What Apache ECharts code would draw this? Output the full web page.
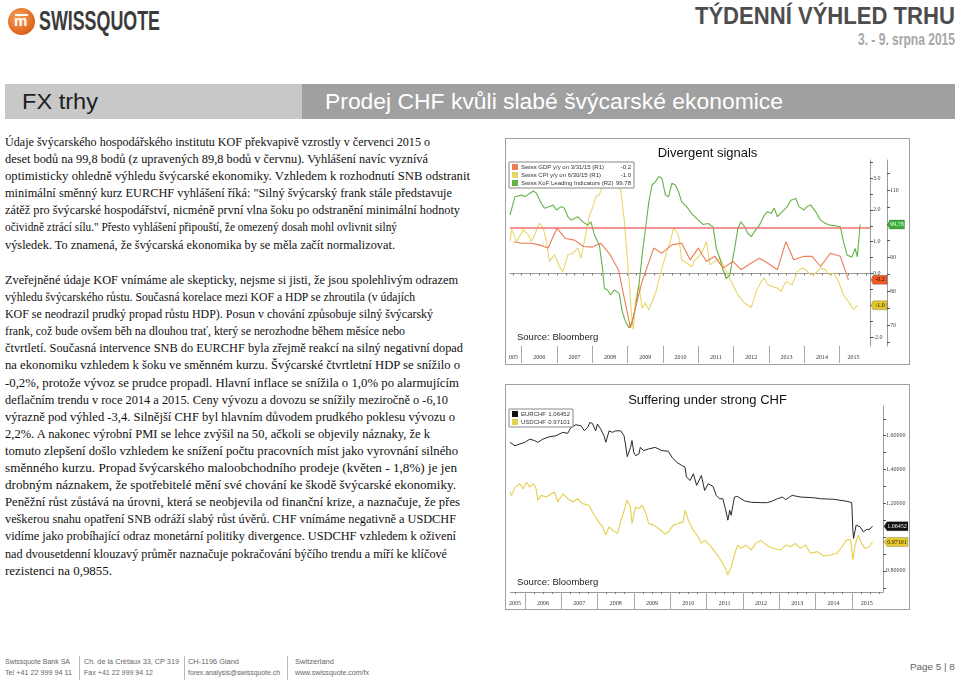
<!DOCTYPE html>
<html><head><meta charset="utf-8">
<script src="https://cdn.jsdelivr.net/npm/echarts@6/dist/echarts.min.js"></script>
<style>
html,body{margin:0;padding:0;background:#fff;}
#page{position:relative;width:960px;height:681px;overflow:hidden;background:#fff;font-family:"Liberation Sans",Arial,sans-serif;}
.abs{position:absolute;white-space:nowrap;}
.fit{transform-origin:left center;display:inline-block;}
.fitr{transform-origin:right center;display:inline-block;}
.txt{position:absolute;left:5px;font-family:"Liberation Serif","Times New Roman",serif;font-size:12.6px;line-height:17.1px;color:#111;white-space:nowrap;}
.txt span{display:inline-block;transform-origin:left center;}
.box{position:absolute;border:1px solid #a0a0a0;box-sizing:border-box;background:#fff;}
.ft{position:absolute;font-size:8px;color:#666;white-space:nowrap;line-height:11px;}
.sep{position:absolute;top:656px;width:1px;height:24px;background:#bbb;}
</style></head>
<body><div id="page">

<div class="abs" style="left:8px;top:8px;width:27px;height:27px;border-radius:50%;background:radial-gradient(circle at 40% 35%,#f7a25a,#e0681f 65%,#b9500f);"></div>
<div class="abs" style="left:15px;top:14px;width:13px;height:2px;background:#fff;"></div>
<div class="abs" style="left:14px;top:12px;color:#fff;font-weight:bold;font-size:15px;line-height:18px;">m</div>
<div class="abs" style="left:39px;top:5px;font-weight:bold;font-size:28px;line-height:32px;color:#3b3b3b;"><span class="fit" data-w="121">SWISSQUOTE</span></div>

<div class="abs" style="right:5px;top:2px;font-weight:bold;font-size:23px;line-height:28px;color:#4d4d4d;text-align:right;"><span class="fitr" data-w="260">TÝDENNÍ VÝHLED TRHU</span></div>
<div class="abs" style="right:5px;top:31px;font-weight:bold;font-size:16px;line-height:18px;color:#a6a6a6;text-align:right;"><span class="fitr" data-w="97">3. - 9. srpna 2015</span></div>

<div class="abs" style="left:5px;top:84px;width:297px;height:35px;background:#c8c8c8;"></div>
<div class="abs" style="left:302px;top:84px;width:653px;height:35px;background:#a0a0a0;"></div>
<div class="abs" style="left:22px;top:89px;font-size:22px;line-height:26px;color:#1e1e1e;"><span class="fit" data-w="76">FX trhy</span></div>
<div class="abs" style="left:325px;top:89px;font-size:22px;line-height:26px;color:#fff;"><span class="fit" data-w="458">Prodej CHF kvůli slabé švýcarské ekonomice</span></div>

<div class="txt" style="top:134px;"><span data-w="425">Údaje švýcarského hospodářského institutu KOF překvapivě vzrostly v červenci 2015 o</span><br><span data-w="423">deset bodů na 99,8 bodů (z upravených 89,8 bodů v červnu). Vyhlášení navíc vyznívá</span><br><span data-w="465">optimisticky ohledně výhledu švýcarské ekonomiky. Vzhledem k rozhodnutí SNB odstranit</span><br><span data-w="447">minimální směnný kurz EURCHF vyhlášení říká: "Silný švýcarský frank stále představuje</span><br><span data-w="455">zátěž pro švýcarské hospodářství, nicméně první vlna šoku po odstranění minimální hodnoty</span><br><span data-w="392">očividně ztrácí sílu." Přesto vyhlášení připouští, že omezený dosah mohl ovlivnit silný</span><br><span data-w="390">výsledek. To znamená, že švýcarská ekonomika by se měla začít normalizovat.</span></div>

<div class="txt" style="top:272px;"><span data-w="453">Zveřejněné údaje KOF vnímáme ale skepticky, nejsme si jisti, že jsou spolehlivým odrazem</span><br><span data-w="410">výhledu švýcarského růstu. Současná korelace mezi KOF a HDP se zhroutila (v údajích</span><br><span data-w="428">KOF se neodrazil prudký propad růstu HDP). Posun v chování způsobuje silný švýcarský</span><br><span data-w="400">frank, což bude ovšem běh na dlouhou trať, který se nerozhodne během měsíce nebo</span><br><span data-w="458">čtvrtletí. Současná intervence SNB do EURCHF byla zřejmě reakcí na silný negativní dopad</span><br><span data-w="455">na ekonomiku vzhledem k šoku ve směnném kurzu. Švýcarské čtvrtletní HDP se snížilo o</span><br><span data-w="454">-0,2%, protože vývoz se prudce propadl. Hlavní inflace se snížila o 1,0% po alarmujícím</span><br><span data-w="443">deflačním trendu v roce 2014 a 2015. Ceny vývozu a dovozu se snížily meziročně o -6,10</span><br><span data-w="450">výrazně pod výhled -3,4. Silnější CHF byl hlavním důvodem prudkého poklesu vývozu o</span><br><span data-w="425">2,2%. A nakonec výrobní PMI se lehce zvýšil na 50, ačkoli se objevily náznaky, že k</span><br><span data-w="453">tomuto zlepšení došlo vzhledem ke snížení počtu pracovních míst jako vyrovnání silného</span><br><span data-w="452">směnného kurzu. Propad švýcarského maloobchodního prodeje (květen - 1,8%) je jen</span><br><span data-w="451">drobným náznakem, že spotřebitelé mění své chování ke škodě švýcarské ekonomiky.</span><br><span data-w="455">Peněžní růst zůstává na úrovni, která se neobjevila od finanční krize, a naznačuje, že přes</span><br><span data-w="451">veškerou snahu opatření SNB odráží slabý růst úvěrů. CHF vnímáme negativně a USDCHF</span><br><span data-w="451">vidíme jako probíhající odraz monetární politiky divergence. USDCHF vzhledem k oživení</span><br><span data-w="442">nad dvousetdenní klouzavý průměr naznačuje pokračování býčího trendu a míří ke klíčové</span><br><span data-w="107">rezistenci na 0,9855.</span></div>

<div id="c1" class="box" style="left:505px;top:138px;width:405px;height:227px;"></div>
<div id="c2" class="box" style="left:505px;top:384px;width:405px;height:226px;"></div>

<div class="ft" style="left:5px;top:656px;"><span class="fit" data-w="65">Swissquote Bank SA</span><br><span class="fit" data-w="67">Tel +41 22 999 94 11</span></div>
<div class="sep" style="left:79px;"></div>
<div class="ft" style="left:84px;top:656px;"><span class="fit" data-w="95">Ch. de la Crétaux 33, CP 319</span><br><span class="fit" data-w="69">Fax +41 22 999 94 12</span></div>
<div class="sep" style="left:184px;"></div>
<div class="ft" style="left:188px;top:656px;"><span class="fit" data-w="51">CH-1196 Gland</span><br><span class="fit" data-w="92">forex.analysis@swissquote.ch</span></div>
<div class="sep" style="left:287px;"></div>
<div class="ft" style="left:295px;top:656px;"><span class="fit" data-w="39">Switzerland</span><br><span class="fit" data-w="74">www.swissquote.com/fx</span></div>
<div class="ft" style="right:5px;top:662px;font-size:9px;text-align:right;"><span class="fitr" data-w="45">Page 5 | 8</span></div>

</div>
<script>
// ---------- DATA: chart 1 "Divergent signals" ----------
const gdpName = 'Swiss GDP y/y on 3/31/15 (R1)';
const cpiName = 'Swiss CPI y/y on 6/30/15 (R1)';
const kofName = 'Swiss KoF Leading Indicators (R2)';
const gdpLast = '-0.2', cpiLast = '-1.0', kofLast = '99.78';
const gdpData = [[2005.77,1.0],[2006.0,0.95],[2006.25,0.95],[2006.5,0.9],[2006.75,0.8],[2007.0,1.43],[2007.24,1.1],[2007.5,1.05],[2007.75,0.85],[2008.0,0.83],[2008.24,0.95],[2008.5,0.6],[2008.74,0.12],[2009.08,-1.72],[2009.41,-0.25],[2009.74,0.8],[2009.97,0.64],[2010.25,0.9],[2010.53,0.95],[2010.77,0.43],[2011.0,0.8],[2011.23,0.38],[2011.47,0.54],[2011.7,0.17],[2011.98,0.38],[2012.21,0.12],[2012.5,0.33],[2012.73,0.48],[2012.96,0.33],[2013.24,0.12],[2013.48,1.0],[2013.7,0.43],[2013.99,0.54],[2014.22,0.54],[2014.46,0.22],[2014.74,0.64],[2015.02,0.54],[2015.25,-0.2]];
const cpiData = [[2005.67,1.01],[2005.72,1.38],[2005.86,1.01],[2006.05,1.38],[2006.19,1.22],[2006.28,1.01],[2006.37,1.22],[2006.50,1.58],[2006.61,1.43],[2006.70,1.01],[2006.79,0.38],[2006.93,0.59],[2007.07,0.22],[2007.17,0.06],[2007.31,0.59],[2007.45,0.64],[2007.59,0.80],[2007.68,0.48],[2007.82,1.27],[2007.92,1.85],[2008.01,2.06],[2008.10,2.42],[2008.20,2.48],[2008.29,2.74],[2008.38,2.95],[2008.52,3.2],[2008.66,3.1],[2008.80,2.63],[2008.90,1.74],[2008.96,0.90],[2009.04,-0.18],[2009.11,-1.30],[2009.16,-1.77],[2009.22,-0.88],[2009.32,-0.35],[2009.41,-1.09],[2009.50,-0.93],[2009.60,-1.14],[2009.79,-0.62],[2009.97,0.17],[2010.11,0.69],[2010.21,1.01],[2010.30,1.43],[2010.44,1.22],[2010.53,0.43],[2010.67,0.33],[2010.81,0.22],[2010.91,0.43],[2011.05,0.59],[2011.14,0.75],[2011.23,1.01],[2011.33,0.27],[2011.47,0.38],[2011.61,0.48],[2011.70,0.27],[2011.79,0.06],[2011.93,-0.25],[2012.12,-0.67],[2012.31,-0.93],[2012.50,-1.07],[2012.64,-0.56],[2012.78,-0.25],[2012.87,-0.14],[2012.96,-0.35],[2013.10,-0.41],[2013.24,-0.46],[2013.34,-0.56],[2013.48,-0.25],[2013.66,-0.35],[2013.80,0.06],[2013.94,0.17],[2014.04,0.12],[2014.18,-0.04],[2014.32,0.01],[2014.46,0.17],[2014.60,0.12],[2014.69,-0.04],[2014.83,0.01],[2014.97,-0.25],[2015.11,-0.67],[2015.25,-0.88],[2015.39,-1.14],[2015.50,-1.0]];
const kofData = [[2005.67,102.6],[2005.81,108.0],[2006.00,108.5],[2006.09,108.0],[2006.23,109.0],[2006.33,109.7],[2006.42,109.0],[2006.56,106.0],[2006.65,104.6],[2006.79,105.1],[2006.89,105.6],[2006.98,104.1],[2007.12,105.1],[2007.21,104.6],[2007.31,102.1],[2007.40,101.1],[2007.50,101.6],[2007.59,102.1],[2007.73,100.6],[2007.87,99.6],[2007.96,100.6],[2008.06,96.7],[2008.20,93.7],[2008.29,86.8],[2008.34,80.9],[2008.43,80.4],[2008.52,78.9],[2008.62,80.4],[2008.76,79.4],[2008.85,74.0],[2008.94,71.0],[2009.04,69.2],[2009.13,71.0],[2009.22,75.0],[2009.32,81.9],[2009.41,90.7],[2009.50,98.1],[2009.60,106.5],[2009.69,111.5],[2009.79,112.5],[2009.88,114.0],[2009.97,113.5],[2010.07,108.5],[2010.16,108.0],[2010.25,112.0],[2010.35,111.5],[2010.44,109.5],[2010.53,106.5],[2010.67,105.1],[2010.81,103.1],[2011.00,101.1],[2011.14,99.8],[2011.28,100.1],[2011.42,99.1],[2011.51,92.7],[2011.61,89.8],[2011.70,86.3],[2011.79,83.8],[2011.89,84.8],[2012.03,92.7],[2012.12,98.6],[2012.21,100.6],[2012.31,99.1],[2012.40,97.2],[2012.50,96.2],[2012.59,97.7],[2012.73,99.6],[2012.87,102.6],[2012.96,103.6],[2013.06,103.1],[2013.15,104.6],[2013.24,102.1],[2013.38,103.6],[2013.52,105.1],[2013.62,107.0],[2013.76,107.5],[2013.85,105.1],[2013.99,104.1],[2014.08,105.1],[2014.18,105.6],[2014.32,103.6],[2014.46,101.1],[2014.60,100.1],[2014.74,99.6],[2014.88,99.4],[2015.02,99.1],[2015.11,94.7],[2015.21,90.7],[2015.35,90.2],[2015.44,92.7],[2015.50,90.2],[2015.58,99.78]];
const kofRefLine = 98.7;
const r1Labels = [-2, 0, 1, 2, 3];
const r2Labels = [70, 80, 90, 110];
const yearLabels1 = [[2005.77,'005'],[2006.5,'2006'],[2007.5,'2007'],[2008.5,'2008'],[2009.5,'2009'],[2010.5,'2010'],[2011.5,'2011'],[2012.5,'2012'],[2013.5,'2013'],[2014.5,'2014'],[2015.39,'2015']];

// ---------- DATA: chart 2 "Suffering under strong CHF" ----------
const eurName = 'EURCHF', usdName = 'USDCHF';
const eurLast = '1.06452', usdLast = '0.97101';
const eurData = [[2005.59,1.561],[2005.73,1.541],[2005.86,1.551],[2006.00,1.561],[2006.14,1.580],[2006.27,1.571],[2006.36,1.561],[2006.50,1.580],[2006.68,1.594],[2006.86,1.600],[2007.05,1.620],[2007.18,1.614],[2007.27,1.649],[2007.41,1.665],[2007.55,1.659],[2007.64,1.629],[2007.73,1.649],[2007.79,1.678],[2007.86,1.673],[2007.95,1.629],[2008.00,1.669],[2008.09,1.639],[2008.18,1.600],[2008.23,1.561],[2008.32,1.629],[2008.41,1.620],[2008.50,1.629],[2008.64,1.629],[2008.73,1.600],[2008.77,1.551],[2008.82,1.476],[2008.91,1.531],[2008.95,1.571],[2009.00,1.502],[2009.05,1.482],[2009.14,1.492],[2009.18,1.531],[2009.27,1.512],[2009.41,1.522],[2009.59,1.531],[2009.77,1.512],[2009.95,1.508],[2010.05,1.473],[2010.18,1.443],[2010.32,1.424],[2010.41,1.414],[2010.45,1.355],[2010.55,1.335],[2010.64,1.375],[2010.73,1.306],[2010.86,1.365],[2010.95,1.276],[2011.05,1.316],[2011.18,1.300],[2011.27,1.247],[2011.36,1.227],[2011.45,1.227],[2011.52,1.169],[2011.59,1.100],[2011.64,1.159],[2011.68,1.129],[2011.77,1.237],[2011.86,1.241],[2011.95,1.227],[2012.05,1.214],[2012.23,1.206],[2012.50,1.204],[2012.68,1.204],[2012.82,1.214],[2012.95,1.227],[2013.09,1.237],[2013.18,1.222],[2013.36,1.247],[2013.59,1.237],[2013.95,1.233],[2014.14,1.227],[2014.50,1.224],[2014.86,1.212],[2015.00,1.204],[2015.03,1.041],[2015.05,0.992],[2015.12,1.071],[2015.23,1.061],[2015.32,1.031],[2015.41,1.045],[2015.50,1.047],[2015.57,1.065]];
const usdData = [[2005.59,1.267],[2005.64,1.247],[2005.73,1.296],[2005.86,1.316],[2005.95,1.286],[2006.05,1.325],[2006.14,1.296],[2006.23,1.316],[2006.30,1.296],[2006.36,1.218],[2006.45,1.247],[2006.59,1.237],[2006.73,1.257],[2006.82,1.267],[2006.91,1.208],[2007.05,1.257],[2007.18,1.227],[2007.32,1.208],[2007.45,1.227],[2007.59,1.198],[2007.77,1.188],[2007.86,1.149],[2008.00,1.100],[2008.14,1.061],[2008.23,1.012],[2008.32,1.061],[2008.41,1.041],[2008.55,1.022],[2008.68,1.120],[2008.82,1.218],[2008.91,1.178],[2008.95,1.080],[2009.05,1.178],[2009.14,1.169],[2009.23,1.188],[2009.32,1.149],[2009.41,1.080],[2009.55,1.071],[2009.68,1.051],[2009.86,1.018],[2009.95,1.031],[2010.09,1.071],[2010.23,1.080],[2010.36,1.090],[2010.41,1.159],[2010.50,1.100],[2010.64,1.041],[2010.77,1.002],[2010.86,0.963],[2010.95,0.982],[2011.09,0.953],[2011.23,0.914],[2011.36,0.875],[2011.50,0.825],[2011.59,0.776],[2011.68,0.825],[2011.77,0.894],[2011.86,0.953],[2011.95,0.933],[2012.09,0.953],[2012.23,0.924],[2012.36,0.963],[2012.50,0.982],[2012.59,0.963],[2012.73,0.943],[2012.86,0.933],[2013.05,0.924],[2013.18,0.953],[2013.32,0.943],[2013.45,0.963],[2013.59,0.933],[2013.73,0.953],[2013.86,0.904],[2014.05,0.914],[2014.23,0.888],[2014.41,0.894],[2014.59,0.904],[2014.73,0.943],[2014.86,0.982],[2014.97,0.986],[2015.03,0.865],[2015.09,0.953],[2015.18,1.012],[2015.27,0.963],[2015.36,0.933],[2015.48,0.943],[2015.57,0.971]];
const fxLabels = [0.8, 1.2, 1.4, 1.6];
const yearLabels2 = [[2005.73,'2005'],[2006.5,'2006'],[2007.5,'2007'],[2008.5,'2008'],[2009.5,'2009'],[2010.5,'2010'],[2011.5,'2011'],[2012.5,'2012'],[2013.5,'2013'],[2014.5,'2014'],[2015.41,'2015']];

// ---------- fit texts to measured widths ----------
document.querySelectorAll('[data-w]').forEach(el => {
  const w = el.getBoundingClientRect().width;
  const t = parseFloat(el.getAttribute('data-w'));
  if (w > 0) el.style.transform = 'scaleX(' + (t / w) + ')';
});

const years = [2006,2007,2008,2009,2010,2011,2012,2013,2014,2015];
function steps(a, b, s) { const r = []; for (let v = a; v <= b + 1e-9; v += s) r.push(+v.toFixed(4)); return r; }
const axFont = 'Liberation Serif';
const C = { gdp: '#ea7d55', cpi: '#e9d66b', kof: '#66b24a', ref: '#f07272' };
const TAG = 'path://M0,5L5,0L40,0L40,10L5,10Z';

function tag(x, y, text, bg, fg, w, off) {
  return { coord: [x, y], symbol: TAG, symbolSize: [w, 9], symbolOffset: [off, 0],
    itemStyle: { color: bg, borderColor: 'rgba(0,0,0,0.35)', borderWidth: 0.5 },
    label: { show: true, position: 'inside', formatter: text, color: fg, fontSize: 6, fontFamily: axFont, offset: [1, 0] } };
}
function xAxes(min, max, labels) {
  return [
    { type: 'value', min, max, axisLine: { show: true, lineStyle: { color: '#9a9a9a' } },
      axisTick: { show: true, customValues: steps(2005.75, 2015.75, 0.25).filter(v => v >= min && v <= max), length: 2, lineStyle: { color: '#777' } },
      axisLabel: { show: false }, splitLine: { show: false } },
    { type: 'value', min, max, position: 'bottom', axisLine: { show: false },
      axisTick: { show: true, customValues: years, length: 17, lineStyle: { color: '#a8a8a8' } },
      axisLabel: { show: true, customValues: labels.map(l => l[0]), formatter: v => { const f = labels.find(l => Math.abs(l[0] - v) < 1e-6); return f ? f[1] : ''; }, fontSize: 6, fontFamily: axFont, color: '#333', margin: 8 },
      splitLine: { show: false } }
  ];
}
function legendOpt(names, vals, nw, vw, top) {
  return { data: names, orient: 'vertical', left: 3, top: top, icon: 'rect', itemWidth: 6, itemHeight: 6, itemGap: 2,
    backgroundColor: '#fff', borderColor: '#888', borderWidth: 1, padding: [2, 3], borderRadius: 0,
    formatter: n => '{n|' + n + '}{v|' + vals[n] + '}',
    textStyle: { fontSize: 6, fontFamily: 'Liberation Sans', color: '#333', padding: [0, 0, 0, -2],
      rich: { n: { width: nw, fontSize: 6, fontFamily: 'Liberation Sans', color: '#333' }, v: { width: vw, align: 'right', fontSize: 6, fontFamily: 'Liberation Sans', color: '#333' } } } };
}
function source() {
  return { type: 'text', left: 11, bottom: 22, style: { text: 'Source: Bloomberg', fontSize: 9.5, fontFamily: 'Liberation Sans', fill: '#222' } };
}

// ---------- chart 1 ----------
const X1MIN = 2005.67, X1MAX = 2015.86;
const c1 = echarts.init(document.getElementById('c1'));
c1.setOption({
  animation: false,
  title: { text: 'Divergent signals', left: 'center', top: 3, textStyle: { fontSize: 13, fontWeight: 'normal', fontFamily: 'Liberation Sans', color: '#111' } },
  grid: { left: 2, right: 39, top: 21, bottom: 18 },
  legend: legendOpt([gdpName, cpiName, kofName], { [gdpName]: gdpLast, [cpiName]: cpiLast, [kofName]: kofLast }, 92, 18, 23),
  graphic: [source()],
  xAxis: xAxes(X1MIN, X1MAX, yearLabels1),
  yAxis: [
    { type: 'value', position: 'right', min: -2.28, max: 3.57, axisLine: { show: true, lineStyle: { color: '#9a9a9a' } },
      axisTick: { show: true, customValues: steps(-2, 3.5, 0.5), length: 3, lineStyle: { color: '#555' } },
      axisLabel: { show: true, customValues: r1Labels, formatter: v => v.toFixed(1), fontSize: 6, fontFamily: axFont, color: '#444', margin: 3 },
      splitLine: { show: false } },
    { type: 'value', position: 'right', offset: 17, min: 63.8, max: 118.9, axisLine: { show: true, lineStyle: { color: '#9a9a9a' } },
      axisTick: { show: true, customValues: steps(65, 115, 5), length: 3, lineStyle: { color: '#555' } },
      axisLabel: { show: true, customValues: r2Labels, formatter: v => String(v), fontSize: 6, fontFamily: axFont, color: '#444', margin: 3 },
      splitLine: { show: false } }
  ],
  series: [
    { name: kofName, type: 'line', xAxisIndex: 0, yAxisIndex: 1, data: kofData, showSymbol: false, lineStyle: { color: C.kof, width: 1.1 }, itemStyle: { color: C.kof }, z: 3,
      markLine: { silent: true, symbol: 'none', label: { show: false }, lineStyle: { color: C.ref, width: 1.6, type: 'solid' }, data: [{ yAxis: kofRefLine }] },
      markPoint: { silent: true, data: [tag(X1MAX, 99.78, kofLast, '#3fae3a', '#e8ffe0', 17, 26)] } },
    { name: gdpName, type: 'line', xAxisIndex: 0, yAxisIndex: 0, data: gdpData, showSymbol: false, lineStyle: { color: C.gdp, width: 1.1 }, itemStyle: { color: C.gdp }, z: 4,
      markPoint: { silent: true, data: [tag(X1MAX, -0.2, gdpLast, '#ee5a24', '#2a0d00', 16, 9)] } },
    { name: cpiName, type: 'line', xAxisIndex: 0, yAxisIndex: 0, data: cpiData, showSymbol: false, lineStyle: { color: C.cpi, width: 1.1 }, itemStyle: { color: C.cpi }, z: 2,
      markPoint: { silent: true, data: [tag(X1MAX, -1.0, cpiLast, '#e2c42e', '#2a2000', 16, 9)] } }
  ]
});

// ---------- chart 2 ----------
const X2MIN = 2005.6, X2MAX = 2015.86;
const c2 = echarts.init(document.getElementById('c2'));
c2.setOption({
  animation: false,
  title: { text: 'Suffering under strong CHF', left: 'center', top: 4, textStyle: { fontSize: 13, fontWeight: 'normal', fontFamily: 'Liberation Sans', color: '#111' } },
  grid: { left: 2, right: 26, top: 21, bottom: 17 },
  legend: legendOpt([eurName, usdName], { [eurName]: eurLast, [usdName]: usdLast }, 27, 22, 24),
  graphic: [source()],
  xAxis: xAxes(X2MIN, X2MAX, yearLabels2),
  yAxis: [
    { type: 'value', position: 'right', min: 0.675, max: 1.776, axisLine: { show: true, lineStyle: { color: '#9a9a9a' } },
      axisTick: { show: true, customValues: steps(0.7, 1.7, 0.1), length: 3, lineStyle: { color: '#555' } },
      axisLabel: { show: true, customValues: fxLabels, formatter: v => v.toFixed(5), fontSize: 6, fontFamily: axFont, color: '#444', margin: 3 },
      splitLine: { show: false } }
  ],
  series: [
    { name: usdName, type: 'line', data: usdData, showSymbol: false, lineStyle: { color: '#e4cf4e', width: 1.1 }, itemStyle: { color: '#e4cf4e' }, z: 2,
      markPoint: { silent: true, data: [tag(X2MAX, 0.97101, usdLast, '#e6c930', '#2a2000', 24, 13)] } },
    { name: eurName, type: 'line', data: eurData, showSymbol: false, lineStyle: { color: '#2a2a2a', width: 1 }, itemStyle: { color: '#111' }, z: 3,
      markPoint: { silent: true, data: [tag(X2MAX, 1.06452, eurLast, '#111', '#fff', 24, 13)] } }
  ]
});
</script>
</body></html>
